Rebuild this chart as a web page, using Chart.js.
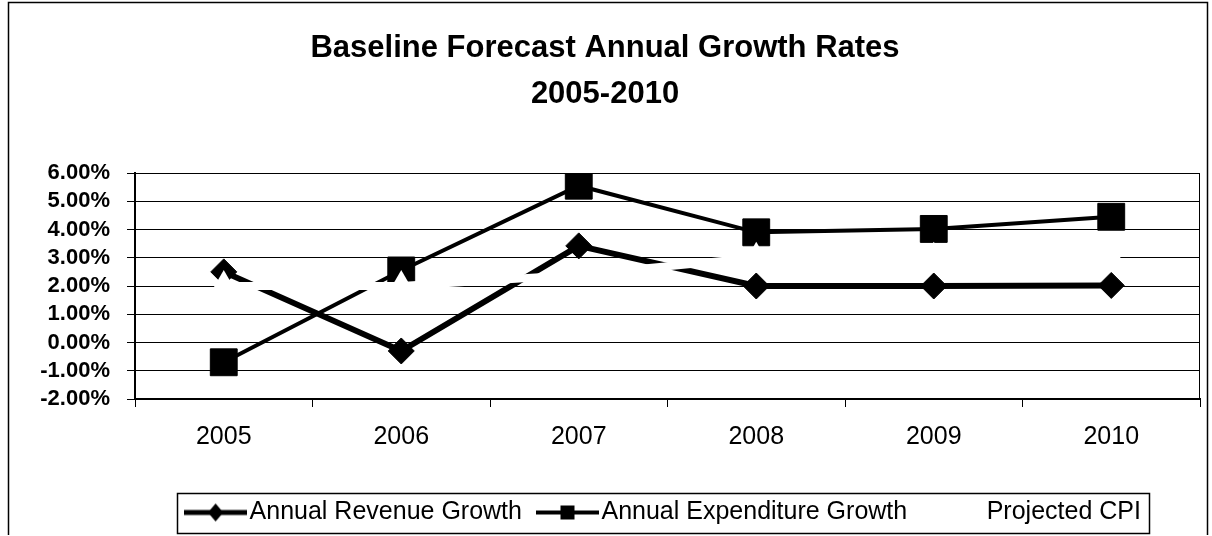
<!DOCTYPE html>
<html lang="en">
<head>
  <meta charset="UTF-8">
  <title>Baseline Forecast Annual Growth Rates</title>
  <script src="https://cdn.jsdelivr.net/npm/chart.js"></script>
  <style>
    html, body {
      margin: 0;
      padding: 0;
      background: #fff;
      overflow: hidden;
    }
    .wrap {
      width: 1212px;
      height: 536px;
      overflow: hidden;
    }
    canvas {
      display: block;
    }
  </style>
</head>
<body>

<div class="wrap">
  <canvas id="growthChart" width="1212" height="535"></canvas>
</div>

<script>
  // chart data
  const years = ['2005', '2006', '2007', '2008', '2009', '2010'];
  const revenueGrowth = [2.5, -0.3, 3.42, 2.0, 2.0, 2.02];
  const expenditureGrowth = [-0.7, 2.55, 5.55, 3.9, 4.02, 4.45];
  // CPI series is drawn in white in the original (only visible where it cuts other lines)
  const projectedCpi = [2.0, 2.0, 2.4, 3.0, 3.0, 3.0];
  const seriesNames = ['Annual Revenue Growth', 'Annual Expenditure Growth', 'Projected CPI'];
  const yMin = -2;
  const yMax = 6;
  const yStep = 1;

  const FONT = '"Liberation Sans", Arial, sans-serif';

  // little line+marker pictures for the legend
  function legendMarker(color, lineW, shape, size) {
    const c = document.createElement('canvas');
    c.width = 63;
    c.height = 24;
    const g = c.getContext('2d');
    g.strokeStyle = color;
    g.fillStyle = color;
    g.lineWidth = lineW;
    g.beginPath();
    g.moveTo(0, 12);
    g.lineTo(63, 12);
    g.stroke();
    g.beginPath();
    if (shape === 'diamond') {
      g.moveTo(31.5, 12 - size);
      g.lineTo(31.5 + size * 0.85, 12);
      g.lineTo(31.5, 12 + size);
      g.lineTo(31.5 - size * 0.85, 12);
      g.closePath();
      g.fill();
    } else if (shape === 'square') {
      g.fillRect(31.5 - size, 12 - size, size * 2, size * 2);
    } else {
      g.moveTo(31.5, 12 - size);
      g.lineTo(31.5 + size, 12 + size * 0.6);
      g.lineTo(31.5 - size, 12 + size * 0.6);
      g.closePath();
      g.fill();
    }
    return c;
  }

  const legendPics = [
    legendMarker('#000', 5, 'diamond', 9),
    legendMarker('#000', 4, 'square', 7),
    legendMarker('#fff', 6, 'triangle', 8)
  ];

  // outer frame, right edge of plot area and the box round the legend
  const framePlugin = {
    id: 'frame',
    afterDraw(chart) {
      const { ctx, chartArea: a, legend } = chart;
      ctx.save();
      ctx.strokeStyle = '#000';
      ctx.lineWidth = 1.5;
      ctx.strokeRect(8.5, 2.5, 1199, 600);

      ctx.lineWidth = 1;
      ctx.beginPath();
      ctx.moveTo(a.right - 0.5, a.top);
      ctx.lineTo(a.right - 0.5, a.bottom);
      ctx.stroke();

      const boxes = legend.legendHitBoxes;
      if (boxes && boxes.length) {
        const first = boxes[0];
        const last = boxes[boxes.length - 1];
        const l = first.left - 17;
        const r = last.left + last.width + 8;
        const cy = first.top + first.height / 2;
        ctx.lineWidth = 1.5;
        ctx.strokeRect(Math.round(l) + 0.5, Math.round(cy - 20) + 0.5, Math.round(r - l), 40);
      }
      ctx.restore();
    }
  };

  const ctx = document.getElementById('growthChart').getContext('2d');
  new Chart(ctx, {
    type: 'line',
    data: {
      labels: years,
      datasets: [
        {
          label: seriesNames[0],
          data: revenueGrowth,
          borderColor: '#000',
          backgroundColor: '#000',
          borderWidth: 6,
          pointStyle: 'rectRot',
          pointRadius: 13,
          pointBorderWidth: 1,
          pointBackgroundColor: '#000',
          order: 1
        },
        {
          label: seriesNames[1],
          data: expenditureGrowth,
          borderColor: '#000',
          backgroundColor: '#000',
          borderWidth: 4,
          pointStyle: 'rect',
          pointRadius: 19,
          pointBorderWidth: 1,
          pointBackgroundColor: '#000',
          order: 2
        },
        {
          label: seriesNames[2],
          data: projectedCpi,
          borderColor: '#fff',
          backgroundColor: '#fff',
          borderWidth: 8,
          pointStyle: 'triangle',
          pointRadius: 16,
          pointBorderWidth: 0,
          pointBackgroundColor: '#fff',
          order: 0
        }
      ]
    },
    options: {
      responsive: false,
      animation: false,
      events: [],
      layout: {
        autoPadding: false,
        padding: { left: 10, right: 12, top: 0, bottom: 0 }
      },
      plugins: {
        title: {
          display: true,
          text: ['Baseline Forecast Annual Growth Rates', '2005-2010'],
          color: '#000',
          font: { family: FONT, size: 31, weight: 'bold', lineHeight: 1.5 },
          padding: { top: 25, bottom: 55 }
        },
        legend: {
          position: 'bottom',
          fullSize: false,
          labels: {
            color: '#000',
            font: { family: FONT, size: 25 },
            usePointStyle: true,
            pointStyleWidth: 43,
            padding: 24,
            generateLabels: (chart) => chart.data.datasets.map((ds, i) => ({
              text: ds.label,
              fillStyle: '#000',
              strokeStyle: '#000',
              lineWidth: 0,
              pointStyle: legendPics[i],
              hidden: false,
              datasetIndex: i,
              fontColor: '#000'
            }))
          }
        },
        tooltip: { enabled: false }
      },
      scales: {
        x: {
          offset: true,
          afterFit: (scale) => { scale.height = 77; },
          grid: {
            display: true,
            offset: true,
            drawOnChartArea: false,
            drawTicks: true,
            tickLength: 8,
            color: '#000'
          },
          border: { display: true, color: '#000', width: 2 },
          ticks: {
            color: '#000',
            font: { family: FONT, size: 25 },
            padding: 15
          }
        },
        y: {
          min: yMin,
          max: yMax,
          afterFit: (scale) => { scale.width = 125; },
          grid: {
            color: '#000',
            lineWidth: 1,
            drawTicks: true,
            tickLength: 8
          },
          border: { display: true, color: '#000', width: 2 },
          ticks: {
            stepSize: yStep,
            autoSkip: false,
            color: '#000',
            font: { family: FONT, size: 22, weight: 'bold' },
            padding: 17,
            callback: (v) => v.toFixed(2) + '%'
          }
        }
      }
    },
    plugins: [framePlugin]
  });
</script>

</body>
</html>
